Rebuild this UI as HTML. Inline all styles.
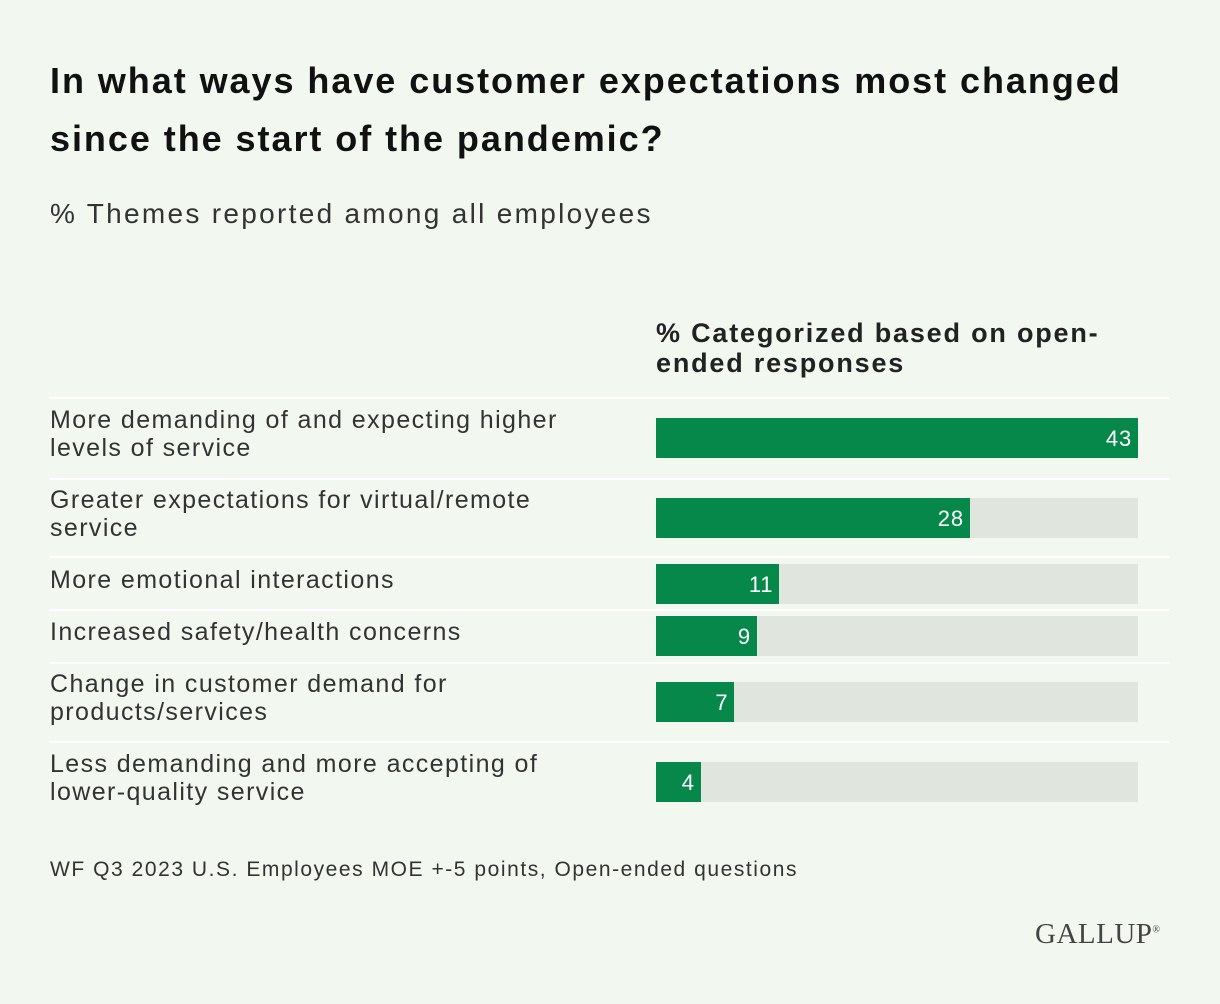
<!DOCTYPE html>
<html><head><meta charset="utf-8"><style>
body{margin:0;width:1220px;height:1004px;background:#f2f7f0;font-family:"Liberation Sans",sans-serif;color:#222;position:relative;overflow:hidden}
.abs{position:absolute}
h1{position:absolute;left:50px;top:52px;margin:0;font-size:36px;line-height:58px;font-weight:bold;width:1170px;color:#111;letter-spacing:1.95px;white-space:nowrap}
</style></head><body>
<h1>In what ways have customer expectations most changed<br>since the start of the pandemic?</h1>
<div class="abs" style="left:50px;top:198px;font-size:28px;letter-spacing:2.3px;color:#333;white-space:nowrap">% Themes reported among all employees</div>
<div class="abs" style="left:656px;top:318px;font-size:27px;font-weight:bold;line-height:30px;letter-spacing:1.8px;white-space:nowrap">% Categorized based on open-<br>ended responses</div>
<div id="rows"></div>
<div class="abs" style="left:50px;top:858px;font-size:21px;letter-spacing:1.55px;color:#333;white-space:nowrap">WF Q3 2023 U.S. Employees MOE +-5 points, Open-ended questions</div>
<div class="abs" style="left:1035px;top:918px;font-family:'Liberation Serif',serif;font-size:29px;color:#444;letter-spacing:0.5px">GALLUP<sup style="font-size:10px">®</sup></div>
<script>
const categories=["More demanding of and expecting higher|levels of service","Greater expectations for virtual/remote|service","More emotional interactions","Increased safety/health concerns","Change in customer demand for|products/services","Less demanding and more accepting of|lower-quality service"];
const values=[43,28,11,9,7,4];
const maxVal=43;
const x0=656,trackW=482;
const xs=v=>v/maxVal*trackW;
const tops=[418,498,564,616,682,762];
const seps=[397,478,556,609,662,741];
const root=document.getElementById('rows');
seps.forEach((y,i)=>{const d=document.createElement('div');d.className='abs';


d.style.cssText=`left:50px;top:${y}px;width:1120px;height:2px;background:#fff`;root.appendChild(d);});
categories.forEach((c,i)=>{
const t=tops[i];
const l=document.createElement('div');l.className='abs';


const parts=c.split('|');
const two=parts.length>1;
l.style.cssText=`left:50px;top:${two?t-12:t+2}px;font-size:25px;letter-spacing:1.4px;line-height:28px;color:#333;white-space:nowrap`;
l.innerHTML=parts.join('<br>');root.appendChild(l);
const tr=document.createElement('div');tr.className='abs';


tr.style.cssText=`left:${x0}px;top:${t}px;width:${trackW}px;height:40px;background:#e0e6de`;root.appendChild(tr);
const b=document.createElement('div');b.className='abs';


b.style.cssText=`left:${x0}px;top:${t}px;width:${xs(values[i])}px;height:40px;background:#07884b`;root.appendChild(b);
const v=document.createElement('div');v.className='abs';


v.style.cssText=`left:${x0}px;top:${t+8}px;width:${xs(values[i])-6}px;text-align:right;font-size:22px;letter-spacing:0.8px;color:#fff`;
v.textContent=values[i];root.appendChild(v);
});
</script>
</body></html>
